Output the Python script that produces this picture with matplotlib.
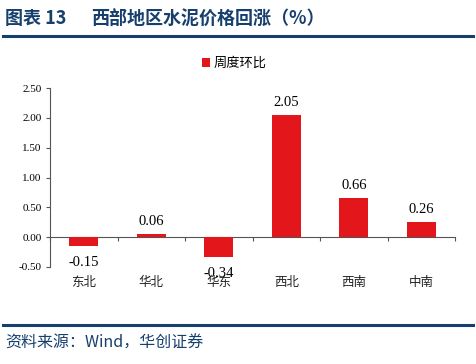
import matplotlib.pyplot as plt
from matplotlib.lines import Line2D

plt.rcParams['font.family'] = ['Noto Sans CJK SC', 'DejaVu Sans']

regions = ['东北', '华北', '华东', '西北', '西南', '中南']
weekly_change = [-0.15, 0.06, -0.34, 2.05, 0.66, 0.26]
y_ticks = [-0.5, 0.0, 0.5, 1.0, 1.5, 2.0, 2.5]

navy = '#173f6e'
bar_red = '#e3161c'

fig = plt.figure(figsize=(4.77, 3.64), dpi=100)

# header and footer
fig.text(0.010, 0.950, '图表 13', fontsize=13, fontweight='bold', color=navy,
         va='center', ha='left')
fig.text(0.190, 0.950, '西部地区水泥价格回涨（%）', fontsize=13, fontweight='bold',
         color=navy, va='center', ha='left')
fig.add_artist(Line2D([0.006, 0.992], [0.901, 0.901], color=navy, lw=2.2))
fig.add_artist(Line2D([0.006, 0.992], [0.107, 0.107], color=navy, lw=2.2))
fig.text(0.012, 0.056, '资料来源：Wind，华创证券', fontsize=11.5, style='italic',
         color=navy, va='center', ha='left')

ax = fig.add_axes([0.105, 0.2665, 0.849, 0.4915])
x = range(len(regions))
ax.bar(x, weekly_change, width=0.43, color=bar_red, label='周度环比', zorder=3)

ax.set_xlim(-0.5, len(regions) - 0.5)
ax.set_ylim(-0.5, 2.5)
ax.set_yticks(y_ticks)
ax.set_yticklabels([f'{v:.2f}' for v in y_ticks], family='Liberation Serif', fontsize=8)
ax.tick_params(axis='y', length=3, width=0.8, color='#555555', pad=3)

ax.spines['top'].set_visible(False)
ax.spines['right'].set_visible(False)
ax.spines['left'].set_color('#555555')
ax.spines['bottom'].set_color('#555555')
ax.spines['bottom'].set_position(('data', 0))
ax.set_xticks([i + 0.5 for i in range(len(regions) - 1)] + [-0.5, len(regions) - 0.5])
ax.set_xticklabels([])
ax.tick_params(axis='x', length=3, width=0.8, color='#555555', direction='out')

for i, name in enumerate(regions):
    ax.text(i, -0.05, name, transform=ax.get_xaxis_transform(), ha='center',
            va='top', fontsize=9, color='#222222')

for i, v in enumerate(weekly_change):
    if v >= 0:
        ax.annotate(f'{v:.2f}', (i, v), xytext=(0, 4), textcoords='offset points',
                    ha='center', va='bottom', family='Liberation Serif', fontsize=10.5)
    else:
        ax.annotate(f'{v:.2f}', (i, v), xytext=(0, -7), textcoords='offset points',
                    ha='center', va='top', family='Liberation Serif', fontsize=10.5)

leg = ax.legend(loc='upper center', bbox_to_anchor=(0.455, 1.24), frameon=False,
                fontsize=9.5, handlelength=0.6, handleheight=0.6, handletextpad=0.3)

fig.savefig('out.png', dpi=100)
